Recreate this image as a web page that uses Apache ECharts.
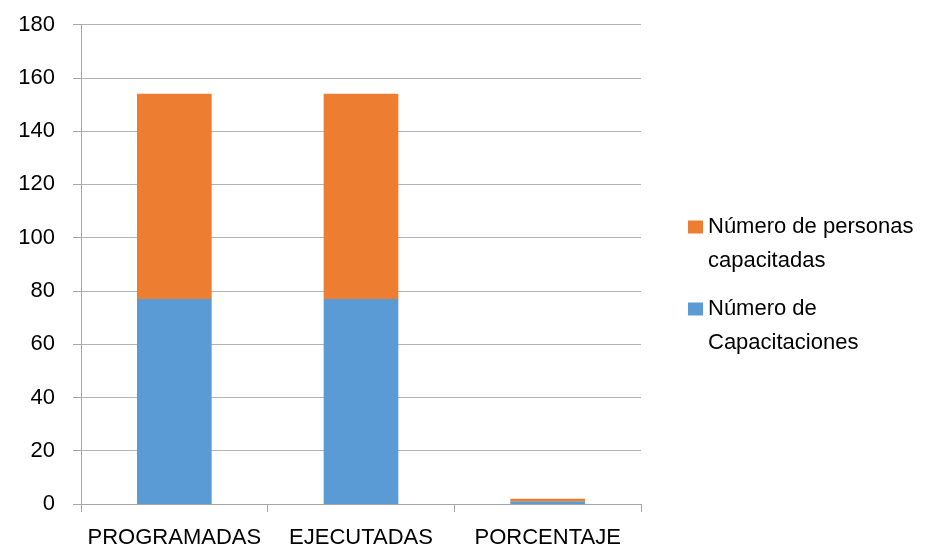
<!DOCTYPE html>
<html>
<head>
<meta charset="utf-8">
<script src="https://cdn.jsdelivr.net/npm/echarts@6/dist/echarts.min.js"></script>
<style>html,body{margin:0;padding:0;background:#fff;}#c{width:935px;height:548px;}</style>
</head>
<body>
<div id="c"></div>
<script>
const categories = ['PROGRAMADAS', 'EJECUTADAS', 'PORCENTAJE'];
const capacitaciones = [77, 77, 1];
const personas = [77, 77, 1];
const seriesNames = ['Número de Capacitaciones', 'Número de personas capacitadas'];
const legendLabels = ['Número de\nCapacitaciones', 'Número de personas\ncapacitadas'];
const yTicks = { min: 0, max: 180, interval: 20 };

const FONT = 'Liberation Sans';
const chart = echarts.init(document.getElementById('c'), null, { renderer: 'canvas' });
const legendText = { fontFamily: FONT, fontSize: 22, color: '#000', lineHeight: 34 };
// a blank first line keeps the square level with the first text line
const lbl = (s) => ' \n' + s;
chart.setOption({
  animation: false,
  backgroundColor: '#fff',
  grid: { left: 81, right: 294, top: 24.5, bottom: 44, containLabel: false, outerBoundsMode: 'none' },
  legend: [
    {
      data: [seriesNames[1]], orient: 'vertical', left: 683, top: 171,
      itemWidth: 15, itemHeight: 13, itemGap: 0, icon: 'rect',
      textStyle: legendText,
      formatter: () => lbl(legendLabels[1])
    },
    {
      data: [seriesNames[0]], orient: 'vertical', left: 683, top: 253,
      itemWidth: 15, itemHeight: 13, itemGap: 0, icon: 'rect',
      textStyle: legendText,
      formatter: () => lbl(legendLabels[0])
    }
  ],
  xAxis: {
    type: 'category', data: categories,
    axisLine: { show: true, lineStyle: { color: '#a6a6a6', width: 1 } },
    axisTick: { show: true, length: 8, lineStyle: { color: '#a6a6a6' } },
    axisLabel: { fontFamily: FONT, fontSize: 22, color: '#000', margin: 23, interval: 0 },
    splitLine: { show: false }
  },
  yAxis: {
    type: 'value', min: yTicks.min, max: yTicks.max, interval: yTicks.interval,
    axisLine: { show: true, lineStyle: { color: '#a6a6a6', width: 1 } },
    axisTick: { show: true, length: 8, lineStyle: { color: '#a6a6a6' } },
    axisLabel: { fontFamily: FONT, fontSize: 22, color: '#000', margin: 26 },
    splitLine: { show: true, lineStyle: { color: '#b3b3b3', width: 1 } }
  },
  series: [
    {
      name: seriesNames[0], type: 'bar', stack: 'total', data: capacitaciones,
      barCategoryGap: '60%', itemStyle: { color: '#5B9BD5' }
    },
    {
      name: seriesNames[1], type: 'bar', stack: 'total', data: personas,
      barCategoryGap: '60%', itemStyle: { color: '#ED7D31' }
    }
  ]
});
</script>
</body>
</html>
